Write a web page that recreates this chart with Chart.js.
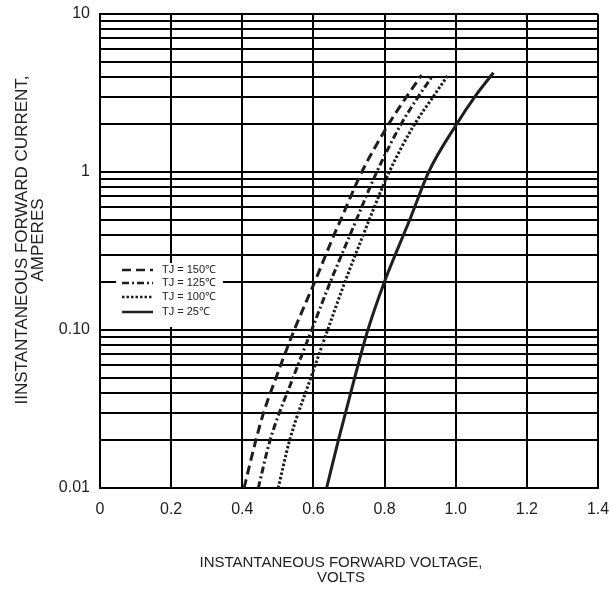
<!DOCTYPE html>
<html>
<head>
<meta charset="utf-8">
<script src="https://cdn.jsdelivr.net/npm/chart.js@4/dist/chart.umd.min.js"></script>
<style>
html,body{margin:0;padding:0;background:#fff;}
#wrap{width:611px;height:592px;}
</style>
</head>
<body>
<div id="wrap"><canvas id="c" width="611" height="592"></canvas></div>
<script>
// ---- data ----
const seriesLabels = ['TJ = 150\u2103', 'TJ = 125\u2103', 'TJ = 100\u2103', 'TJ = 25\u2103'];
const volts150 = [0.405, 0.438, 0.460, 0.495, 0.546, 0.603, 0.658, 0.677, 0.736, 0.811, 0.862, 0.904];
const amps150  = [0.01, 0.02, 0.03, 0.05, 0.1, 0.2, 0.4, 0.5, 1, 2, 3, 4.1];
const volts125 = [0.445, 0.478, 0.543, 0.595, 0.647, 0.703, 0.721, 0.778, 0.846, 0.895, 0.933];
const amps125  = [0.01, 0.02, 0.05, 0.1, 0.2, 0.4, 0.5, 1, 2, 3, 4.0];
const volts100 = [0.501, 0.533, 0.593, 0.640, 0.688, 0.740, 0.757, 0.813, 0.884, 0.937, 0.978];
const amps100  = [0.01, 0.02, 0.05, 0.1, 0.2, 0.4, 0.5, 1, 2, 3, 4.1];
const volts25  = [0.637, 0.670, 0.716, 0.753, 0.799, 0.871, 0.924, 1.002, 1.054, 1.106];
const amps25   = [0.01, 0.02, 0.05, 0.1, 0.2, 0.5, 1, 2, 3, 4.25];
const xTicks = [0, 0.2, 0.4, 0.6, 0.8, 1.0, 1.2, 1.4];
const xTickLabels = ['0', '0.2', '0.4', '0.6', '0.8', '1.0', '1.2', '1.4'];
const yGridValues = [0.01,0.02,0.03,0.04,0.05,0.06,0.07,0.08,0.09,
                     0.1,0.2,0.3,0.4,0.5,0.6,0.7,0.8,0.9,
                     1,2,3,4,5,6,7,8,9,10];
const yTickLabelValues = [0.01, 0.1, 1, 10];
const yTickLabels = ['0.01', '0.10', '1', '10'];
const xTitle = ['INSTANTANEOUS FORWARD VOLTAGE,', 'VOLTS'];
const yTitle = ['IINSTANTANEOUS FORWARD CURRENT,', 'AMPERES'];

const FONT = '"Liberation Sans", Arial, sans-serif';
const lineColor = '#1e1e1e';
const dashes = [[9, 5], [7, 3, 2, 3], [2.5, 2], []];
const pts = (xs, ys) => xs.map((x, i) => ({x: x, y: ys[i]}));
const allVolts = [volts150, volts125, volts100, volts25];
const allAmps = [amps150, amps125, amps100, amps25];

const datasets = seriesLabels.map((lab, i) => ({
  label: lab,
  data: pts(allVolts[i], allAmps[i]),
  borderColor: lineColor,
  borderWidth: 3,
  borderDash: dashes[i],
  pointRadius: 0,
  cubicInterpolationMode: 'monotone',
  fill: false
}));

const legendPlugin = {
  id: 'insideLegend',
  afterDatasetsDraw(chart) {
    const ctx = chart.ctx;
    const a = chart.chartArea;
    const bx = a.left + 16, by = a.top + 249, bw = 107, bh = 64;
    ctx.save();
    ctx.fillStyle = '#fff';
    ctx.fillRect(bx, by, bw, bh);
    ctx.font = '11px ' + FONT;
    ctx.textBaseline = 'middle';
    ctx.fillStyle = '#222';
    const rows = [7, 20, 34, 49];
    chart.data.datasets.forEach((ds, i) => {
      const y = by + rows[i];
      ctx.beginPath();
      ctx.strokeStyle = ds.borderColor;
      ctx.lineWidth = 2.5;
      ctx.setLineDash(ds.borderDash);
      ctx.moveTo(bx + 6, y);
      ctx.lineTo(bx + 37, y);
      ctx.stroke();
      ctx.setLineDash([]);
      ctx.fillText(ds.label, bx + 46, y);
    });
    ctx.restore();
  }
};

const titlePlugin = {
  id: 'axisTitles',
  afterDraw(chart) {
    const ctx = chart.ctx;
    const a = chart.chartArea;
    ctx.save();
    ctx.fillStyle = '#222';
    ctx.textAlign = 'center';
    ctx.textBaseline = 'middle';
    ctx.font = '15px ' + FONT;
    const xc = (a.left + a.right) / 2 - 8;
    ctx.fillText(xTitle[0], xc, a.bottom + 75);
    ctx.fillText(xTitle[1], xc, a.bottom + 90);
    ctx.font = '17px ' + FONT;
    const yc = (a.top + a.bottom) / 2 - 11;
    ctx.translate(a.left - 78, yc);
    ctx.rotate(-Math.PI / 2);
    ctx.fillText(yTitle[0], 0, 0);
    ctx.fillText(yTitle[1], 0, 16);
    ctx.restore();
  }
};

new Chart(document.getElementById('c'), {
  type: 'line',
  data: { datasets: datasets },
  options: {
    responsive: false,
    animation: false,
    devicePixelRatio: 1,
    layout: { padding: 0 },
    plugins: { legend: { display: false }, tooltip: { enabled: false } },
    scales: {
      x: {
        type: 'linear',
        min: 0, max: 1.4,
        afterBuildTicks(s) { s.ticks = xTicks.map(v => ({value: v})); },
        afterFit(s) { s.height = 104; s.paddingRight = 13; s.paddingLeft = 0; },
        ticks: {
          callback: (v) => { const i = xTicks.findIndex(t => Math.abs(t - v) < 1e-9); return i >= 0 ? xTickLabels[i] : ''; },
          color: '#222',
          font: { family: FONT, size: 16 },
          padding: 12,
          maxRotation: 0
        },
        grid: { color: '#000', lineWidth: 2, drawTicks: false },
        border: { color: '#000', width: 2 }
      },
      y: {
        type: 'logarithmic',
        min: 0.01, max: 10,
        afterBuildTicks(s) { s.ticks = yGridValues.map(v => ({value: v})); },
        afterFit(s) { s.width = 100; s.paddingTop = 14; s.paddingBottom = 0; },
        ticks: {
          autoSkip: false,
          callback: (v) => { const i = yTickLabelValues.findIndex(t => Math.abs(t - v) / t < 1e-6); return i >= 0 ? yTickLabels[i] : ''; },
          color: '#222',
          font: { family: FONT, size: 16 },
          padding: 10
        },
        grid: { color: '#000', lineWidth: 2, drawTicks: false },
        border: { color: '#000', width: 2 }
      }
    }
  },
  plugins: [legendPlugin, titlePlugin]
});
</script>
</body>
</html>
